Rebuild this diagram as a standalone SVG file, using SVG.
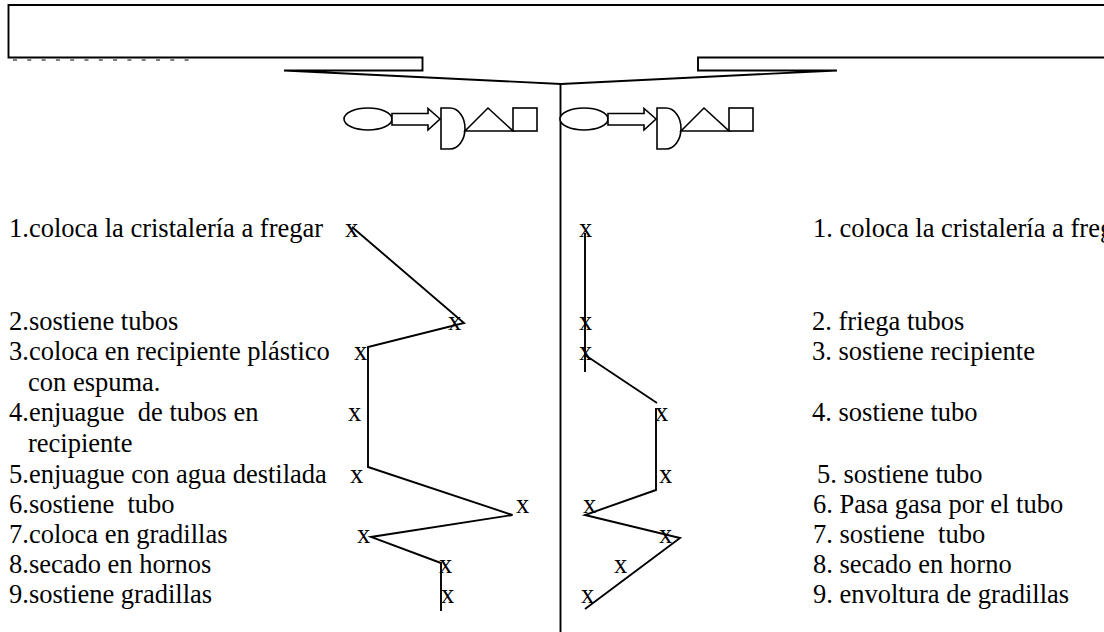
<svg xmlns="http://www.w3.org/2000/svg" width="1104" height="632" viewBox="0 0 1104 632">
<style>
.t{font-family:"Liberation Serif","Times New Roman",serif;font-size:26.5px;fill:#000;white-space:pre}
.ln{fill:none;stroke:#000;stroke-width:1.9}
.sym{fill:#fff;stroke:#000;stroke-width:1.6}
</style>
<rect width="1104" height="632" fill="#fff"/>
<g id="header">
<path class="ln" stroke-width="2" d="M1106,5 H8.5 V57.5 H422.5 V70.5 H284 L561,84 L837,70.5 H698 V57.5 H1106"/>
<line x1="13" y1="60" x2="189" y2="60" stroke="#000" stroke-width="1.2" stroke-dasharray="4 10.3"/>
</g>
<g id="divider"><line class="ln" x1="560.5" y1="84" x2="560.5" y2="632"/></g>
<defs>
<g id="symbols">
<ellipse class="sym" cx="368" cy="119" rx="24" ry="11"/>
<path class="sym" d="M392,113.5 H428 V108.5 L440,119 L428,130 V125 H392 Z"/>
<path class="sym" d="M441,108 H450 A15,20.5 0 0 1 450,149 H441 Z"/>
<path class="sym" d="M465,131 L488,108 L513,131 Z"/>
<rect class="sym" x="513" y="108" width="24" height="23"/>
</g>
</defs>
<g id="symbols-left"><use href="#symbols"/></g>
<g id="symbols-right"><use href="#symbols" transform="translate(216,0)"/></g>
<g id="left-labels">
<text class="t" x="9" y="237">1.coloca la cristalería a fregar</text>
<text class="t" x="9" y="330">2.sostiene tubos</text>
<text class="t" x="9" y="360">3.coloca en recipiente plástico</text>
<text class="t" x="28" y="391">con espuma.</text>
<text class="t" x="9" y="421">4.enjuague  de tubos en</text>
<text class="t" x="28" y="452">recipiente</text>
<text class="t" x="9" y="483">5.enjuague con agua destilada</text>
<text class="t" x="9" y="513">6.sostiene  tubo</text>
<text class="t" x="9" y="543">7.coloca en gradillas</text>
<text class="t" x="9" y="573">8.secado en hornos</text>
<text class="t" x="9" y="603">9.sostiene gradillas</text>
</g>
<g id="left-marks">
<text class="t" x="345" y="237">x</text>
<text class="t" x="448" y="330">x</text>
<text class="t" x="354" y="360">x</text>
<text class="t" x="348" y="421">x</text>
<text class="t" x="350" y="483">x</text>
<text class="t" x="516" y="513">x</text>
<text class="t" x="357" y="543">x</text>
<text class="t" x="439" y="573">x</text>
<text class="t" x="441" y="603">x</text>
</g>
<g id="right-labels">
<text class="t" x="813" y="237">1. coloca la cristalería a fregar</text>
<text class="t" x="812" y="330">2. friega tubos</text>
<text class="t" x="812" y="360">3. sostiene recipiente</text>
<text class="t" x="812" y="421">4. sostiene tubo</text>
<text class="t" x="817" y="483">5. sostiene tubo</text>
<text class="t" x="813" y="513">6. Pasa gasa por el tubo</text>
<text class="t" x="813" y="543">7. sostiene  tubo</text>
<text class="t" x="813" y="573">8. secado en horno</text>
<text class="t" x="813" y="603">9. envoltura de gradillas</text>
</g>
<g id="right-marks">
<text class="t" x="579" y="237">x</text>
<text class="t" x="579" y="330">x</text>
<text class="t" x="579" y="360">x</text>
<text class="t" x="655" y="421">x</text>
<text class="t" x="659" y="483">x</text>
<text class="t" x="583" y="513">x</text>
<text class="t" x="659" y="543">x</text>
<text class="t" x="614" y="573">x</text>
<text class="t" x="581" y="603">x</text>
</g>
<g id="connectors">
<polyline class="ln" points="352,227 464,323 368,347 368,467 512.5,515 371,537 441,563 441,611"/>
<polyline class="ln" points="585,233 585,372"/>
<polyline class="ln" points="585,355 657,403"/>
<polyline class="ln" points="656,408 656,490 585,515 680,538 585,609"/>
</g>
</svg>
